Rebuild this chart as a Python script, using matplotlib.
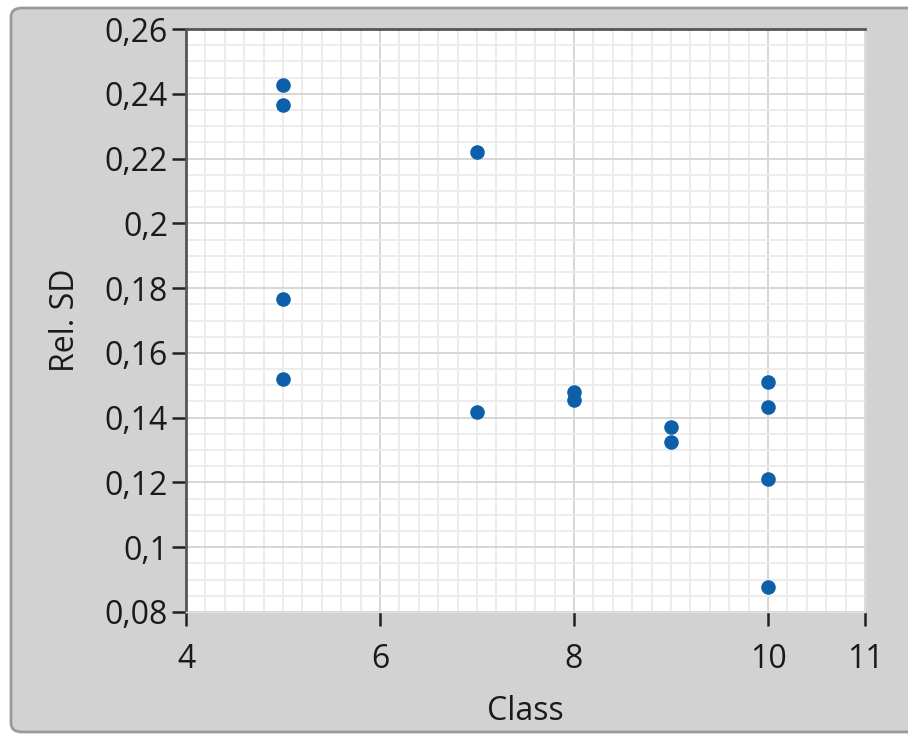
import matplotlib
matplotlib.use('Agg')
import matplotlib.pyplot as plt
from matplotlib.patches import FancyBboxPatch
from matplotlib.ticker import MultipleLocator, FuncFormatter

# values
class_x = [5, 5, 5, 5, 7, 7, 8, 8, 9, 9, 10, 10, 10, 10]
rel_sd = [0.2427, 0.2365, 0.1765, 0.1518, 0.2220, 0.1419, 0.1480, 0.1456,
          0.1372, 0.1326, 0.1511, 0.1434, 0.1211, 0.0877]
x_ticks = [4, 6, 8, 10, 11]
y_ticks = [0.08, 0.10, 0.12, 0.14, 0.16, 0.18, 0.20, 0.22, 0.24, 0.26]

plt.rcParams['font.family'] = ['Open Sans', 'DejaVu Sans']

fig = plt.figure(figsize=(9.08, 7.40), dpi=100, facecolor='white')

# grey panel frame behind the plot
frame = FancyBboxPatch((11 / 908, 8 / 740), 1.05, 724 / 740,
                       boxstyle='round,pad=0,rounding_size=0.012',
                       transform=fig.transFigure, facecolor='#d2d2d2',
                       edgecolor='#9a9a9a', linewidth=2.0, zorder=-10)
fig.patches.append(frame)

ax = fig.add_axes([186 / 908, 1 - 612 / 740, (865 - 186) / 908, (612 - 29) / 740])
ax.set_zorder(1)
ax.set_facecolor('white')

ax.scatter(class_x, rel_sd, s=110, color='#0c5fa8', zorder=3, linewidths=0)

ax.set_xlim(4, 11)
ax.set_ylim(0.08, 0.26)
ax.set_xticks(x_ticks)
ax.set_yticks(y_ticks)
ax.xaxis.set_minor_locator(MultipleLocator(0.2))
ax.yaxis.set_minor_locator(MultipleLocator(0.005))

def comma_fmt(v, pos):
    s = ('%.2f' % v).rstrip('0').rstrip('.')
    return s.replace('.', ',')

ax.yaxis.set_major_formatter(FuncFormatter(comma_fmt))

ax.grid(which='major', color='#d6d6d6', linewidth=1.4, zorder=1)
ax.grid(which='minor', color='#ebebeb', linewidth=1.3, zorder=0)
ax.set_axisbelow(True)

ax.tick_params(axis='both', which='major', direction='out', length=10,
               width=1.8, color='#222222', labelsize=23, labelcolor='#1a1a1a')
ax.tick_params(axis='x', pad=12)
ax.tick_params(axis='y', pad=3)
ax.tick_params(which='minor', length=0)

for side in ['left', 'top']:
    ax.spines[side].set_color('#555555')
    ax.spines[side].set_linewidth(2)
for side in ['right', 'bottom']:
    ax.spines[side].set_color('#e0e0e0')
    ax.spines[side].set_linewidth(1)

ax.set_xlabel('Class', fontsize=23, color='#1a1a1a', labelpad=14)
ax.set_ylabel('Rel. SD', fontsize=23, color='#1a1a1a', labelpad=16)

fig.savefig('out.png', dpi=100, facecolor='white')
